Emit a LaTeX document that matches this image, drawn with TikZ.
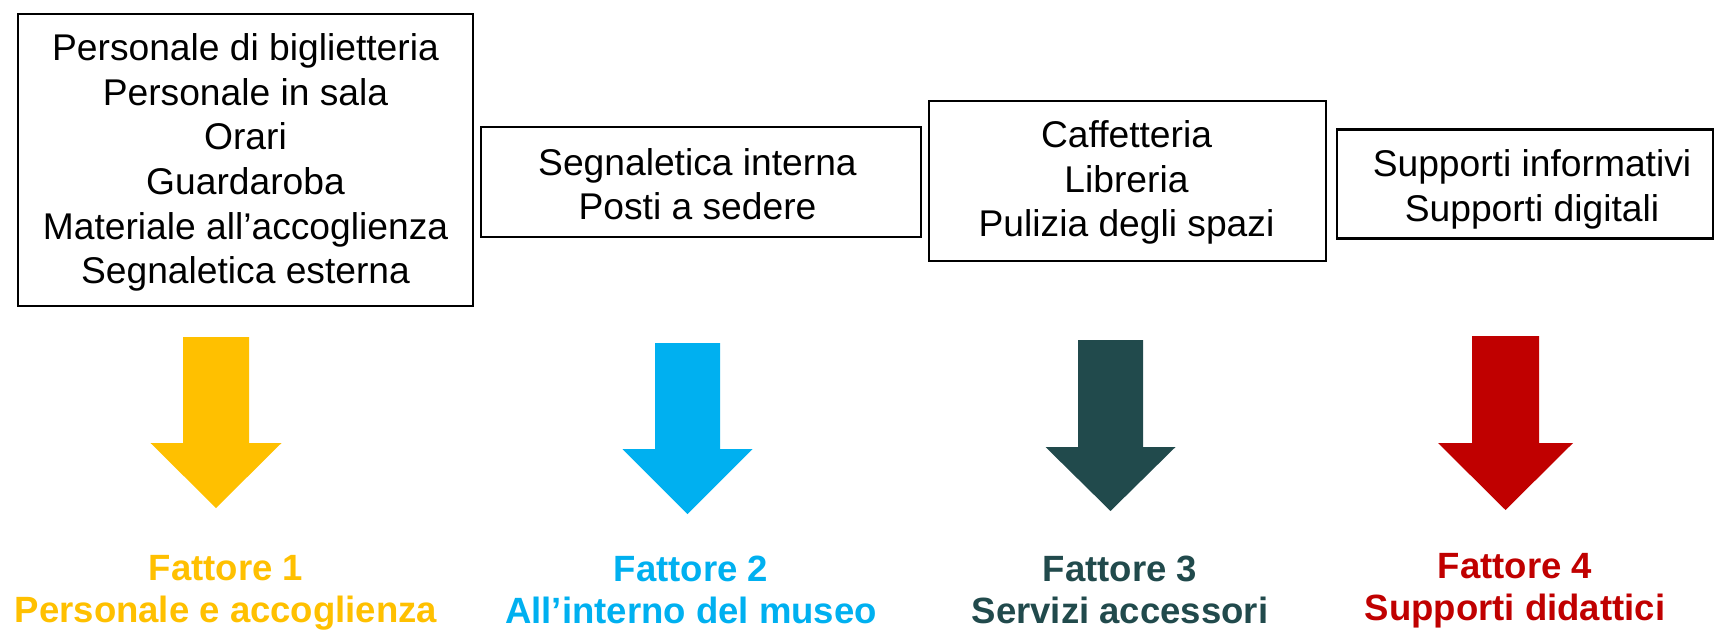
\documentclass[tikz,border=0pt]{standalone}
\usepackage{fontspec}
\setmainfont{Liberation Sans}
\definecolor{fyellow}{HTML}{FFC000}
\definecolor{fblue}{HTML}{00B0F0}
\definecolor{fteal}{HTML}{214A4C}
\definecolor{fred}{HTML}{C00000}
\newcommand\fatarrow[7]{% cx, top, heady, tipy, halfshaft, halfhead, colour
  \fill[#7] (#1-#5,#2) -- (#1+#5,#2) -- (#1+#5,#3) -- (#1+#6,#3) -- (#1,#4)
    -- (#1-#6,#3) -- (#1-#5,#3) -- cycle;}
\begin{document}
\begin{tikzpicture}[x=0.01cm,y=-0.01cm,
  itembox/.style={draw=black,line width=0.6pt,inner sep=0pt},
  itemtext/.style={align=center,inner sep=0pt,anchor=north,
    font=\fontsize{10.58pt}{12.69pt}\selectfont},
  factor/.style={align=center,inner sep=0pt,anchor=north,
    font=\fontsize{10.39pt}{11.95pt}\selectfont\bfseries}]
\useasboundingbox (0,0) rectangle (1715,630);
% boxes
\node[itembox,minimum width=4.55cm,minimum height=2.92cm] (b1) at (245.5,160) {};
\node[itembox,minimum width=4.40cm,minimum height=1.10cm] (b2) at (701,182) {};
\node[itembox,minimum width=3.97cm,minimum height=1.60cm] (b3) at (1127.5,181) {};
\node[itembox,minimum width=3.76cm,minimum height=1.09cm] (b4) at (1525,184) {};
% box texts
\node[itemtext] (t1) at (245.5,33) {Personale di biglietteria\\Personale in sala\\Orari\\Guardaroba\\Materiale all’accoglienza\\Segnaletica esterna};
\node[itemtext] (t2) at (697.5,147.5) {Segnaletica interna\\Posti a sedere};
\node[itemtext] (t3) at (1126.5,120) {Caffetteria\\Libreria\\Pulizia degli spazi};
\node[itemtext] (t4) at (1532,149) {Supporti informativi\\Supporti digitali};
% arrows
\fatarrow{216}{337}{443}{508}{33}{65.5}{fyellow}
\fatarrow{687.5}{343}{449}{514}{32.5}{65}{fblue}
\fatarrow{1110.5}{340}{447}{511}{32.5}{65}{fteal}
\fatarrow{1505.5}{336}{443}{510}{33.5}{67.5}{fred}
% factor labels
\node[factor,text=fyellow] (f1) at (226,555) {Fattore 1\\Personale e accoglienza};
\node[factor,text=fblue] (f2) at (691,555) {Fattore 2\\All’interno del museo};
\node[factor,text=fteal] (f3) at (1120,555) {Fattore 3\\Servizi accessori};
\node[factor,text=fred] (f4) at (1515,553) {Fattore 4\\Supporti didattici};
\end{tikzpicture}
\end{document}
